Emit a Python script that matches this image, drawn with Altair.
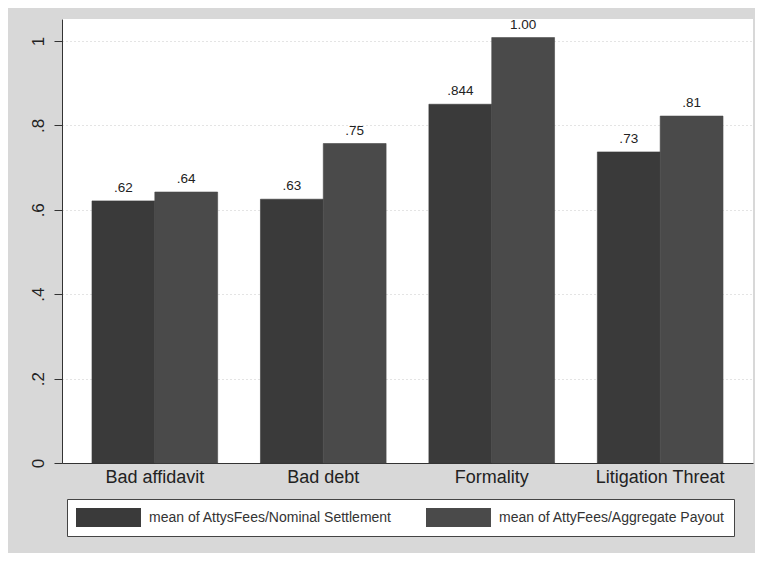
import altair as alt
import pandas as pd

categories = ["Bad affidavit", "Bad debt", "Formality", "Litigation Threat"]
series = ["mean of AttysFees/Nominal Settlement", "mean of AttyFees/Aggregate Payout"]
nominal_values = [0.621, 0.625, 0.850, 0.737]
aggregate_values = [0.642, 0.757, 1.008, 0.822]
nominal_labels = [".62", ".63", ".844", ".73"]
aggregate_labels = [".64", ".75", "1.00", ".81"]
y_ticks = [0, 0.2, 0.4, 0.6, 0.8, 1.0]
bar_colors = ["#3a3a3a", "#4a4a4a"]

rows = []
for i, c in enumerate(categories):
    rows.append({"cat": c, "series": series[0], "value": nominal_values[i], "label": nominal_labels[i]})
    rows.append({"cat": c, "series": series[1], "value": aggregate_values[i], "label": aggregate_labels[i]})
df = pd.DataFrame(rows)

x_enc = alt.X(
    "cat:N", sort=categories, title=None,
    scale=alt.Scale(paddingInner=0.254, paddingOuter=0.178),
    axis=alt.Axis(labelAngle=0, labelFontSize=18, labelFont="Liberation Sans", labelColor="#222222",
                  ticks=False, labelPadding=5, domainColor="#333333", domainWidth=1, grid=False),
)
xoff_enc = alt.XOffset("series:N", sort=series, scale=alt.Scale(paddingInner=0, paddingOuter=0))
y_enc = alt.Y(
    "value:Q", title=None,
    scale=alt.Scale(domain=[0, 1.052], nice=False, zero=True),
    axis=alt.Axis(values=y_ticks, labelAngle=270, labelAlign="center", labelBaseline="alphabetic",
                  labelFontSize=17, labelFont="Liberation Sans", labelColor="#222222",
                  labelExpr="replace(format(datum.value, '.1~f'), '0.', '.')",
                  tickSize=8, tickColor="#333333", labelPadding=11,
                  domainColor="#333333", domainWidth=1,
                  grid=True, gridColor="#c8c8c8", gridDash=[1, 3], gridWidth=1),
)

color_scale = alt.Scale(domain=series, range=bar_colors)

bars = alt.Chart(df).mark_bar(strokeWidth=0.6).encode(
    x=x_enc,
    xOffset=xoff_enc,
    y=y_enc,
    stroke=alt.Stroke("series:N", sort=series, scale=color_scale, legend=None),
    color=alt.Color(
        "series:N", sort=series,
        scale=color_scale,
        legend=alt.Legend(
            title=None, orient="none", legendX=5, legendY=480, direction="horizontal", columns=2,
            symbolType="M-1,-1H5.84V1H-1Z", symbolSize=361, symbolStrokeWidth=0, symbolOpacity=1,
            labelFontSize=14, labelFont="Liberation Sans", labelColor="#333333", labelLimit=400,
            labelOffset=54, columnPadding=34, padding=9,
            strokeColor="#444444", fillColor="#ffffff",
        ),
    ),
)

texts = alt.Chart(df).mark_text(baseline="bottom", dy=-6, fontSize=13.5, font="Liberation Sans", color="#222222").encode(
    x=alt.X("cat:N", sort=categories),
    xOffset=alt.XOffset("series:N", sort=series),
    y=alt.Y("value:Q"),
    text="label:N",
)

chart = (
    alt.layer(bars, texts)
    .properties(
        width=691, height=444,
        autosize=alt.AutoSizeParams(type="none"),
        padding={"left": 54, "top": 11, "right": 2, "bottom": 90},
        background="#d8d8d8",
    )
    .configure_view(fill="#ffffff", stroke=None)
)

chart.save("out.html", embed_options={"renderer": "svg", "actions": False})
